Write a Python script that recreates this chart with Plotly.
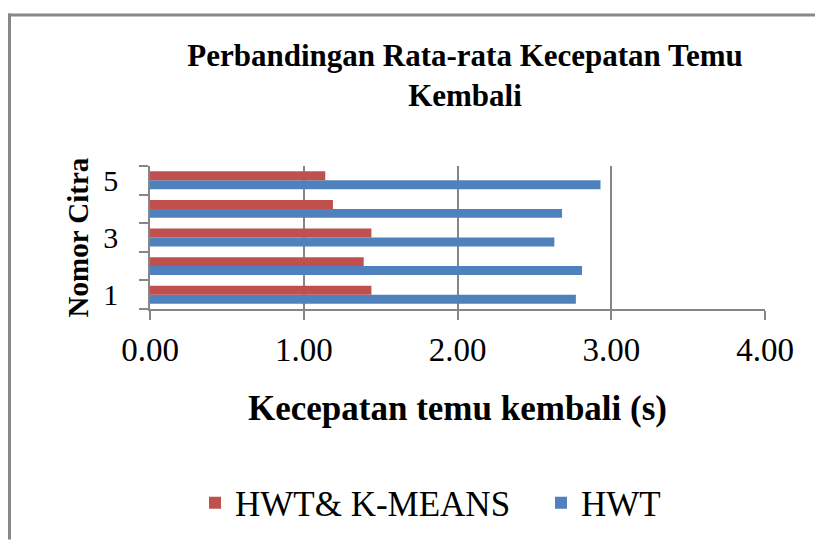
import plotly.graph_objects as go

nomor = [1, 2, 3, 4, 5]
hwt = [2.77, 2.81, 2.63, 2.68, 2.93]
hwt_kmeans = [1.44, 1.39, 1.44, 1.19, 1.14]
x_ticks = [0, 1, 2, 3, 4]
y_ticks = [1, 3, 5]

GRAY = "#868686"
SERIF = "Liberation Serif, Times New Roman, serif"

fig = go.Figure()
fig.add_trace(go.Bar(y=nomor, x=hwt, orientation="h", name="HWT", legend="legend2",
                     marker=dict(color="#4F81BD", line=dict(width=0))))
fig.add_trace(go.Bar(y=nomor, x=hwt_kmeans, orientation="h", name="HWT& K-MEANS",
                     legend="legend",
                     marker=dict(color="#C0504D", line=dict(width=0))))

# page has an 8px body margin; work in figure coordinates = page - 8
OFF = 8
W, H = 807, 534
L, T = 150 - OFF, 166 - OFF
pw, ph = 615, 144
R, B = W - L - pw, H - T - ph


def px(xpage):
    return (xpage - OFF - L) / pw


def py(ypage):
    return (T + ph - (ypage - OFF)) / ph


legend_font = dict(size=35, family=SERIF, color="black")

fig.update_layout(
    width=W, height=H,
    margin=dict(l=L, r=R, t=T, b=B),
    paper_bgcolor="white", plot_bgcolor="white",
    barmode="group", bargap=0.375, bargroupgap=0,
    font=dict(family=SERIF, color="black"),
    title=dict(text="<b>Perbandingan Rata-rata Kecepatan Temu<br>Kembali</b>",
               x=px(465), xref="paper", xanchor="center",
               y=1 - (66 - OFF) / H, yanchor="middle",
               font=dict(size=31, family=SERIF, color="black")),
    xaxis=dict(range=[0, 4], tickvals=x_ticks, tickformat=".2f",
               showgrid=True, gridcolor=GRAY, gridwidth=1.5,
               showline=True, linecolor=GRAY, linewidth=1.5,
               ticks="outside", ticklen=9, tickcolor=GRAY, tickwidth=1.5,
               ticklabelstandoff=2,
               tickfont=dict(size=33, family=SERIF, color="black"),
               zeroline=False,
               title=dict(text="<b>Kecepatan temu kembali (s)</b>", standoff=28,
                          font=dict(size=35, family=SERIF, color="black"))),
    yaxis=dict(range=[0.5, 5.5], tickvals=y_ticks, ticks="",
               showgrid=False, zeroline=False,
               showline=True, linecolor=GRAY, linewidth=1.5,
               ticklabelstandoff=24,
               tickfont=dict(size=30, family=SERIF, color="black"),
               minor=dict(tickvals=[0.5, 1.5, 2.5, 3.5, 4.5, 5.5], ticks="outside",
                          ticklen=9, tickcolor=GRAY, tickwidth=1.5, showgrid=False),
               title=dict(text="<b>Nomor Citra</b>", standoff=6,
                          font=dict(size=29, family=SERIF, color="black"))),
    legend=dict(orientation="h", x=px(195), xanchor="left",
                y=py(503), yanchor="middle", font=legend_font, itemwidth=30),
    legend2=dict(orientation="h", x=px(541), xanchor="left",
                 y=py(503), yanchor="middle", font=legend_font, itemwidth=30),
    showlegend=True,
)

# chart outer border (only top and left edges fall inside the picture)
fig.add_shape(type="line", xref="paper", yref="paper",
              x0=px(8), x1=px(OFF + W), y0=py(14), y1=py(14),
              line=dict(color="#888888", width=3))
fig.add_shape(type="line", xref="paper", yref="paper",
              x0=px(9.5), x1=px(9.5), y0=py(12.5), y1=py(OFF + H),
              line=dict(color="#888888", width=3))

fig.write_html("out.html", config={"displayModeBar": False})
